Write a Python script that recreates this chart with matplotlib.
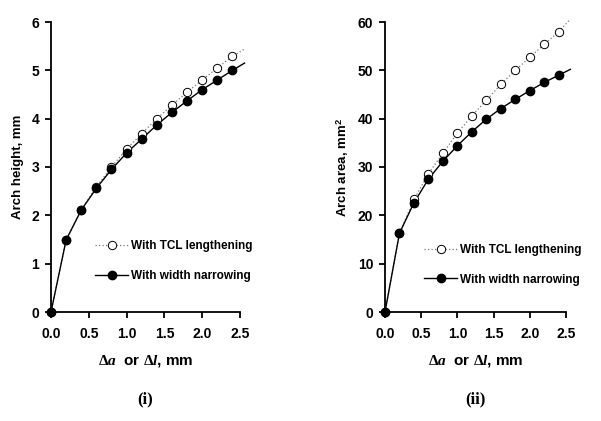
import matplotlib
matplotlib.use("Agg")
import matplotlib.pyplot as plt

plt.rcParams['font.family'] = ['Liberation Sans', 'DejaVu Sans']
plt.rcParams['font.weight'] = 'bold'
plt.rcParams['mathtext.fontset'] = 'custom'
plt.rcParams['mathtext.rm'] = 'Liberation Serif:bold'
plt.rcParams['mathtext.it'] = 'Liberation Serif:bold:italic'
plt.rcParams['mathtext.bf'] = 'Liberation Serif:bold'
plt.rcParams['mathtext.sf'] = 'Liberation Sans:bold'

# Data
x_pts = [0.0, 0.2, 0.4, 0.6, 0.8, 1.0, 1.2, 1.4, 1.6, 1.8, 2.0, 2.2, 2.4]
x_end = 2.56

height_tcl = [0.0, 1.49, 2.11, 2.59, 3.00, 3.37, 3.69, 4.00, 4.28, 4.55, 4.80, 5.05, 5.29]
height_tcl_end = 5.44
height_width = [0.0, 1.49, 2.11, 2.56, 2.95, 3.29, 3.58, 3.87, 4.13, 4.37, 4.60, 4.80, 5.00]
height_width_end = 5.15

area_tcl = [0.0, 16.3, 23.3, 28.6, 32.9, 37.0, 40.6, 43.8, 47.1, 50.0, 52.7, 55.4, 58.0]
area_tcl_end = 60.6
area_width = [0.0, 16.3, 22.6, 27.5, 31.2, 34.4, 37.3, 39.9, 42.1, 44.0, 45.8, 47.5, 49.0]
area_width_end = 50.2

label_tcl = "With TCL lengthening"
label_width = "With width narrowing"
xlabel = r"$\Delta\mathit{a}$  or $\Delta\mathit{l}$, mm"

fig = plt.figure(figsize=(6.01, 4.21), dpi=100)
W, H = 601, 421

def make_ax(left_px, right_px, top_px, bottom_px):
    return fig.add_axes([left_px / W, 1 - bottom_px / H,
                         (right_px - left_px) / W, (bottom_px - top_px) / H])

ax1 = make_ax(51, 240, 22, 312)
ax2 = make_ax(385, 566, 22, 312)

panels = [
    (ax1, height_tcl, height_tcl_end, height_width, height_width_end,
     (0, 6), list(range(0, 7)), "Arch height, mm", "(i)", (0.233, 0.247)),
    (ax2, area_tcl, area_tcl_end, area_width, area_width_end,
     (0, 60), list(range(0, 61, 10)), r"Arch area, mm$^{\mathsf{2}}$", "(ii)", (0.216, 0.235)),
]

for ax, ytcl, ytcl_end, ywid, ywid_end, ylim, yticks, ylab, title, lpos in panels:
    # lines (extend slightly beyond last marker)
    ax.plot(x_pts + [x_end], ytcl + [ytcl_end], color='#777777',
            linestyle=(0, (1, 1.8)), linewidth=0.9, clip_on=False, zorder=2)
    ax.plot(x_pts + [x_end], ywid + [ywid_end], color='black',
            linestyle='-', linewidth=1.0, clip_on=False, zorder=2)
    # markers
    ax.plot(x_pts, ytcl, linestyle='none', marker='o', markersize=6,
            markerfacecolor='white', markeredgecolor='black', markeredgewidth=0.7,
            clip_on=False, zorder=3)
    ax.plot(x_pts, ywid, linestyle='none', marker='o', markersize=6,
            markerfacecolor='black', markeredgecolor='black',
            clip_on=False, zorder=4)
    # legend proxies
    h1, = ax.plot([], [], color='#777777', linestyle=(0, (1, 1.8)), linewidth=0.9,
                  marker='o', markersize=6, markerfacecolor='white',
                  markeredgecolor='black', markeredgewidth=0.7)
    h2, = ax.plot([], [], color='black', linestyle='-', linewidth=1.0,
                  marker='o', markersize=6, markerfacecolor='black',
                  markeredgecolor='black')
    ax.legend([h1, h2], [label_tcl, label_width], loc='upper left',
              bbox_to_anchor=lpos, frameon=False,
              handlelength=2.8, handletextpad=0.25, labelspacing=1.5,
              borderpad=0, borderaxespad=0,
              prop={'weight': 'bold', 'size': 8.5})

    ax.set_xlim(0, 2.5)
    ax.set_ylim(*ylim)
    ax.set_xticks([0.0, 0.5, 1.0, 1.5, 2.0, 2.5])
    ax.set_xticklabels(['0.0', '0.5', '1.0', '1.5', '2.0', '2.5'])
    ax.set_yticks(yticks)
    for s in ['top', 'right']:
        ax.spines[s].set_visible(False)
    for s in ['left', 'bottom']:
        ax.spines[s].set_linewidth(1.3)
    ax.tick_params(axis='both', direction='out', length=4.5, width=1.3,
                   labelsize=10)
    ax.tick_params(axis='x', pad=6)
    ax.tick_params(axis='y', pad=4)
    for lab in ax.get_xticklabels() + ax.get_yticklabels():
        lab.set_fontweight('bold')
    ax.set_ylabel(ylab, fontsize=9.5, fontweight='bold', labelpad=5)
    ax.set_xlabel(xlabel, fontsize=11, fontweight='bold', labelpad=9)
    ax.text(0.5, (312 - 399) / 290, title, transform=ax.transAxes,
            ha='center', va='center',
            fontsize=12, fontweight='bold', family=['Liberation Serif'])

fig.savefig("out.png", dpi=100)
